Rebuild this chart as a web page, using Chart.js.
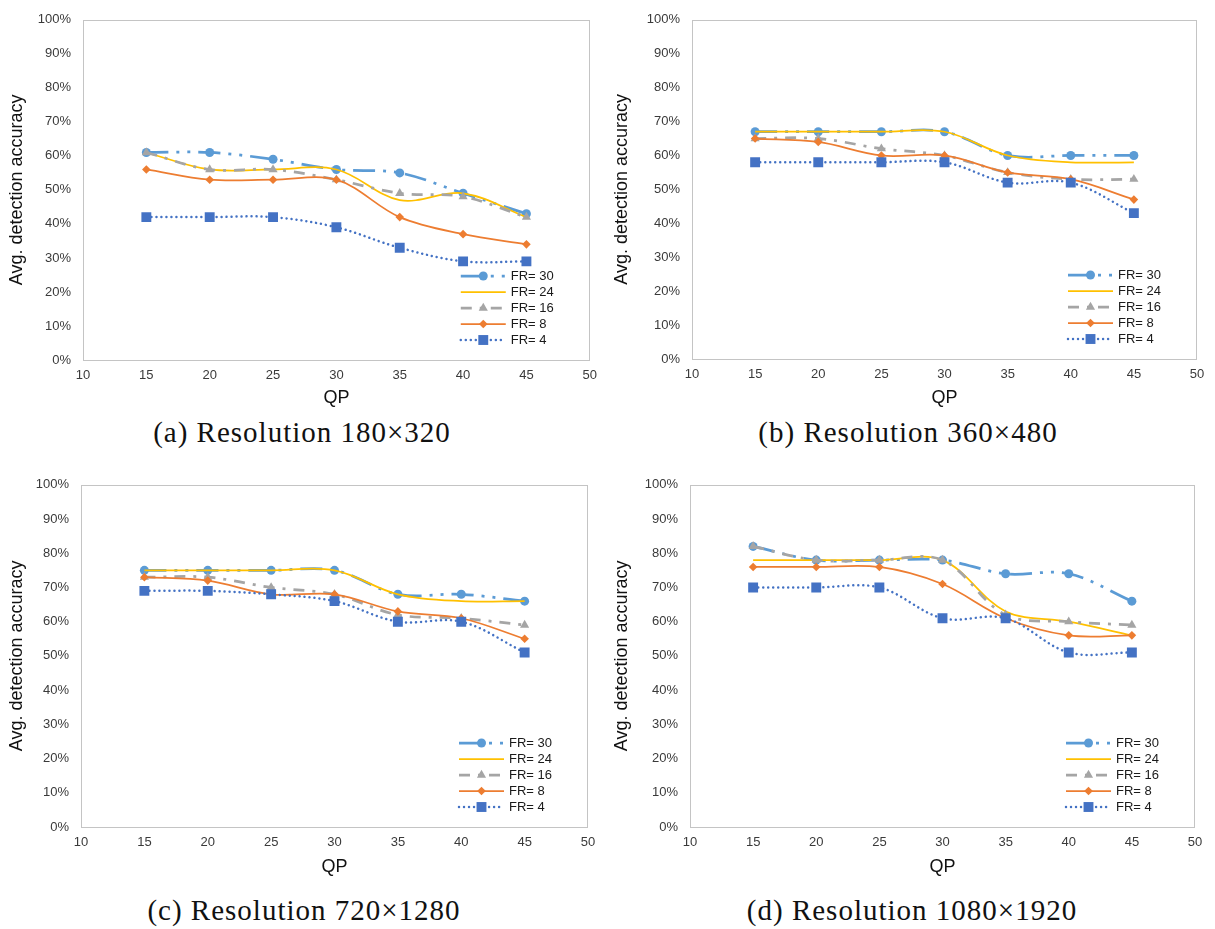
<!DOCTYPE html>
<html>
<head>
<meta charset="utf-8">
<script src="https://cdn.jsdelivr.net/npm/chart.js@4/dist/chart.umd.min.js"></script>
<style>
  html, body { margin: 0; padding: 0; background: #fff; }
  body { width: 1215px; height: 929px; position: relative; overflow: hidden; }
  canvas { position: absolute; }
  .cap {
    position: absolute;
    font-family: "Liberation Serif", "Times New Roman", serif;
    font-size: 29px;
    letter-spacing: 1px;
    color: #111;
    white-space: nowrap;
    transform: translate(-50%, -50%);
  }
</style>
</head>
<body>
<canvas id="ca" width="605" height="415" style="left:0;top:0"></canvas>
<canvas id="cb" width="610" height="415" style="left:605px;top:0"></canvas>
<canvas id="cc" width="605" height="419" style="left:0;top:465px"></canvas>
<canvas id="cd" width="610" height="419" style="left:605px;top:465px"></canvas>
<div class="cap" id="capA" style="left:302px;top:432px"></div>
<div class="cap" id="capB" style="left:908px;top:432px"></div>
<div class="cap" id="capC" style="left:304px;top:910px"></div>
<div class="cap" id="capD" style="left:912px;top:910px"></div>
<script>
// Quantization parameters on the x axis
const qp = [15, 20, 25, 30, 35, 40, 45];
const frameRates = ['FR= 30', 'FR= 24', 'FR= 16', 'FR= 8', 'FR= 4'];
const captions = [
  '(a) Resolution 180\u00d7320',
  '(b) Resolution 360\u00d7480',
  '(c) Resolution 720\u00d71280',
  '(d) Resolution 1080\u00d71920'
];
const yAxisTitle = 'Avg. detection accuracy';
const xAxisTitle = 'QP';

// Average detection accuracy (%) — 180x320
const r180_fr30 = [61, 61, 59, 56, 55, 49, 43];
const r180_fr24 = [61, 56, 56, 56, 47, 49, 42];
const r180_fr16 = [61, 56, 56, 53, 49, 48, 42];
const r180_fr8  = [56, 53, 53, 53, 42, 37, 34];
const r180_fr4  = [42, 42, 42, 39, 33, 29, 29];

// 360x480
const r360_fr30 = [67, 67, 67, 67, 60, 60, 60];
const r360_fr24 = [67, 67, 67, 67, 60, 58, 58];
const r360_fr16 = [65, 65, 62, 60, 55, 53, 53];
const r360_fr8  = [65, 64, 60, 60, 55, 53, 47];
const r360_fr4  = [58, 58, 58, 58, 52, 52, 43];

// 720x1280
const r720_fr30 = [75, 75, 75, 75, 68, 68, 66];
const r720_fr24 = [75, 75, 75, 75, 68, 66, 66];
const r720_fr16 = [73, 73, 70, 68, 62, 61, 59];
const r720_fr8  = [73, 72, 68, 68, 63, 61, 55];
const r720_fr4  = [69, 69, 68, 66, 60, 60, 51];

// 1080x1920
const r1080_fr30 = [82, 78, 78, 78, 74, 74, 66];
const r1080_fr24 = [78, 78, 78, 78, 63, 60, 56];
const r1080_fr16 = [82, 78, 78, 78, 62, 60, 59];
const r1080_fr8  = [76, 76, 76, 71, 61, 56, 56];
const r1080_fr4  = [70, 70, 70, 61, 61, 51, 51];

Chart.defaults.font.family = '"Liberation Sans", Arial, sans-serif';

// Line and marker look of each frame-rate series
const seriesStyles = [
  { color: '#5B9BD5', width: 2.75, dash: [22, 8, 3, 8, 3, 8], cap: 'butt', point: 'circle', radius: 4.5 },
  { color: '#FFC000', width: 1.75, dash: [], cap: 'butt', point: 'circle', radius: 0 },
  { color: '#A5A5A5', width: 2.75, dash: [11, 8, 3, 8], cap: 'butt', point: 'triangle', radius: 5.3 },
  { color: '#ED7D31', width: 1.75, dash: [], cap: 'butt', point: 'rectRot', radius: 4.3 },
  { color: '#4472C4', width: 2.5, dash: [0.01, 5], cap: 'round', point: 'rect', radius: 7 }
];

function drawMarker(ctx, style, r, x, y, color) {
  if (!r) return;
  ctx.fillStyle = color;
  ctx.beginPath();
  if (style === 'circle') {
    ctx.arc(x, y, r, 0, Math.PI * 2);
  } else if (style === 'triangle') {
    ctx.moveTo(x, y - r);
    ctx.lineTo(x + r * Math.sin(Math.PI / 3), y + r / 2);
    ctx.lineTo(x - r * Math.sin(Math.PI / 3), y + r / 2);
    ctx.closePath();
  } else if (style === 'rectRot') {
    ctx.moveTo(x, y - r); ctx.lineTo(x + r, y); ctx.lineTo(x, y + r); ctx.lineTo(x - r, y);
    ctx.closePath();
  } else {
    const s = r * Math.SQRT1_2;
    ctx.rect(x - s, y - s, 2 * s, 2 * s);
  }
  ctx.fill();
}

// Plot-area frame
const plotFrame = {
  id: 'plotFrame',
  beforeDatasetsDraw(chart) {
    const { ctx, chartArea: a } = chart;
    ctx.save();
    ctx.strokeStyle = '#C4C4C4';
    ctx.lineWidth = 1;
    ctx.strokeRect(Math.round(a.left) + 0.5, Math.round(a.top) + 0.5,
                   Math.round(a.right - a.left) - 1, Math.round(a.bottom - a.top));
    ctx.restore();
  }
};

// Legend drawn inside the lower-right corner of the plot area
const cornerLegend = {
  id: 'cornerLegend',
  afterDatasetsDraw(chart) {
    const { ctx, chartArea: a } = chart;
    const x0 = a.right - 129, x1 = a.right - 84, tx = a.right - 79;
    chart.data.datasets.forEach((ds, i) => {
      const y = a.bottom - 84 + i * 16;
      ctx.save();
      ctx.strokeStyle = ds.borderColor;
      ctx.lineWidth = ds.borderWidth;
      ctx.lineCap = ds.borderCapStyle;
      ctx.setLineDash(ds.borderDash);
      ctx.beginPath();
      ctx.moveTo(x0, y);
      ctx.lineTo(x1, y);
      ctx.stroke();
      ctx.setLineDash([]);
      drawMarker(ctx, ds.pointStyle, ds.pointRadius, (x0 + x1) / 2, y, ds.pointBackgroundColor);
      ctx.fillStyle = '#1a1a1a';
      ctx.font = '13px "Liberation Sans", Arial, sans-serif';
      ctx.textAlign = 'left';
      ctx.textBaseline = 'middle';
      ctx.fillText(ds.label, tx, y);
      ctx.restore();
    });
  }
};

function makeChart(canvasId, series, area) {
  const canvas = document.getElementById(canvasId);
  const W = canvas.width;
  const datasets = series.map((vals, i) => {
    const st = seriesStyles[i];
    return {
      label: frameRates[i],
      data: vals.map((v, k) => ({ x: qp[k], y: v })),
      borderColor: st.color,
      backgroundColor: st.color,
      borderWidth: st.width,
      borderDash: st.dash,
      borderCapStyle: st.cap,
      tension: 0.35,
      pointStyle: st.point,
      pointRadius: st.radius,
      pointBackgroundColor: st.color,
      pointBorderColor: st.color,
      pointBorderWidth: 0,
      fill: false,
      order: series.length - i
    };
  });
  return new Chart(canvas, {
    type: 'line',
    data: { datasets },
    options: {
      responsive: false,
      animation: false,
      devicePixelRatio: 1,
      layout: { padding: { top: area.top, right: W - area.right, left: 0, bottom: 0 } },
      plugins: { legend: { display: false }, tooltip: { enabled: false } },
      scales: {
        x: {
          type: 'linear', min: 10, max: 50,
          grid: { display: false, drawTicks: false },
          border: { display: false },
          ticks: { stepSize: 5, padding: 8, color: '#3a3a3a', font: { size: 13 } },
          title: { display: true, text: xAxisTitle, color: '#111', font: { size: 18 }, padding: { top: 0, bottom: area.qpGap } },
          afterFit(s) { s.height = canvas.height - area.bottom; }
        },
        y: {
          min: 0, max: 100,
          grid: { display: false, drawTicks: false },
          border: { display: false },
          ticks: { stepSize: 10, padding: 12, color: '#3a3a3a', font: { size: 13 }, callback: v => v + '%' },
          title: { display: true, text: yAxisTitle, color: '#111', font: { size: 18 }, padding: { top: 6, bottom: 0 } },
          afterFit(s) { s.width = area.left; }
        }
      }
    },
    plugins: [plotFrame, cornerLegend]
  });
}

makeChart('ca', [r180_fr30, r180_fr24, r180_fr16, r180_fr8, r180_fr4],
  { left: 83, top: 10, right: 591, bottom: 360, qpGap: 6 });
makeChart('cb', [r360_fr30, r360_fr24, r360_fr16, r360_fr8, r360_fr4],
  { left: 87, top: 10, right: 592, bottom: 359, qpGap: 6 });
makeChart('cc', [r720_fr30, r720_fr24, r720_fr16, r720_fr8, r720_fr4],
  { left: 81, top: 16, right: 588, bottom: 362, qpGap: 6 });
makeChart('cd', [r1080_fr30, r1080_fr24, r1080_fr16, r1080_fr8, r1080_fr4],
  { left: 85, top: 14, right: 590, bottom: 362, qpGap: 6 });

document.getElementById('capA').textContent = captions[0];
document.getElementById('capB').textContent = captions[1];
document.getElementById('capC').textContent = captions[2];
document.getElementById('capD').textContent = captions[3];
</script>
</body>
</html>
